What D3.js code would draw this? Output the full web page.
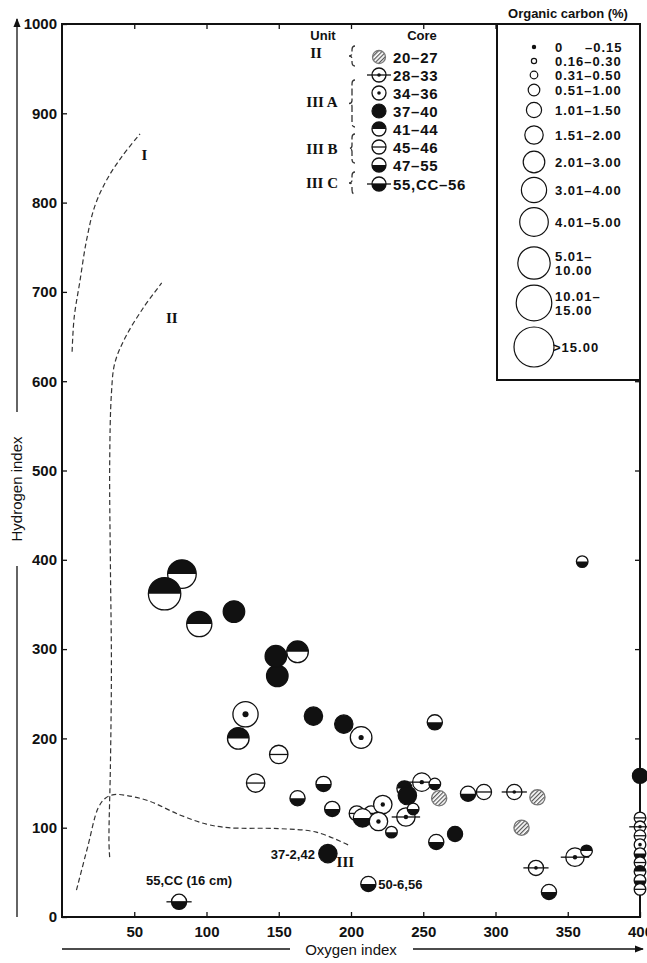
<!DOCTYPE html>
<html>
<head>
<meta charset="utf-8">
<script src="https://cdn.jsdelivr.net/npm/d3@7"></script>
<style>
  body { margin: 0; background: #fff; }
  svg { display: block; }
  text { font-family: "Liberation Sans", Arial, Helvetica, sans-serif; fill: #111; }
  .serif { font-family: "Liberation Serif", "Times New Roman", serif; font-weight: bold; }
</style>
</head>
<body>
<svg id="chart" width="647" height="963"></svg>
<script>
// ---- Data -------------------------------------------------------------
const oxygenTicks = [50, 100, 150, 200, 250, 300, 350, 400];
const hydrogenTicks = [0, 100, 200, 300, 400, 500, 600, 700, 800, 900, 1000];

// Core groups (symbol kinds) and the lithologic unit they belong to
const coreGroups = ["20–27", "28–33", "34–36", "37–40", "41–44", "45–46", "47–55", "55,CC–56"];
const unitNames = ["II", "III A", "III B", "III C"];

// Organic-carbon classes (symbol size)
const carbonClasses = ["0", "0.16–0.30", "0.31–0.50", "0.51–1.00", "1.01–1.50", "1.51–2.00",
  "2.01–3.00", "3.01–4.00", "4.01–5.00", "5.01–\n10.00", "10.01–\n15.00", ">15.00"];

// Samples: [oxygen index, hydrogen index, core group, carbon class]
const samples = [
  [83, 384, 4, 8], [71, 362, 4, 9], [95, 328, 4, 7], [119, 342, 3, 6],
  [149, 270, 3, 6], [148, 292, 3, 6], [163, 297, 4, 6], [127, 227, 2, 7],
  [174, 225, 3, 5], [122, 200, 4, 6], [195, 216, 3, 5], [207, 201, 2, 6],
  [258, 218, 6, 4], [360, 398, 6, 3], [400, 158, 3, 4],
  [150, 182, 5, 5], [134, 150, 5, 5], [181, 149, 6, 4], [163, 133, 6, 4],
  [187, 121, 6, 4], [184, 71, 3, 5], [212, 37, 6, 4],
  [204, 116, 5, 4], [214, 116, 5, 4], [208, 111, 6, 5],
  [249, 151, 1, 5], [258, 149, 6, 3], [237, 144, 4, 4], [239, 136, 3, 5],
  [261, 133, 0, 4], [281, 138, 6, 4], [292, 140, 5, 4], [313, 140, 1, 4],
  [329, 134, 0, 4], [222, 126, 2, 5], [219, 107, 2, 5], [238, 112, 1, 5],
  [243, 121, 6, 3], [228, 95, 6, 3], [259, 84, 6, 4], [272, 93, 3, 4],
  [318, 100, 0, 4], [355, 67, 1, 5], [363, 74, 4, 3], [328, 55, 1, 4],
  [337, 28, 6, 4], [81, 17, 7, 4],
  [400, 111, 5, 3], [400, 101, 1, 3], [400, 91, 5, 3], [400, 81, 2, 3],
  [400, 71, 6, 3], [400, 61, 5, 3], [400, 51, 4, 3], [400, 41, 6, 3], [400, 31, 5, 3]
];

// Kerogen-type boundary curves: [oxygen index, hydrogen index]
const typeI = [[7, 633], [8.4, 671], [12.3, 711], [17, 758], [22.7, 796], [30.8, 825], [41.2, 851], [54, 877]];
const typeII = [[33, 67], [32.5, 84], [33.5, 169], [34.2, 281], [33.5, 394], [33, 507], [34.2, 586],
  [36.5, 620], [43.5, 648], [56.2, 682], [69, 710]];
const typeIII = [[10, 30], [18, 80], [25, 122], [30, 133], [36, 137], [45, 136], [60, 130], [82, 114],
  [100, 104], [115, 100], [150, 99], [176, 95], [199, 80]];
const curveNames = ["I", "II", "III"];

// Sample annotations: text and the sample index it refers to
const notes = [
  { text: "37-2,42", sample: 20 },
  { text: "50-6,56", sample: 21 },
  { text: "55,CC (16 cm)", sample: 46 }
];

// ---- Layout -----------------------------------------------------------
const svg = d3.select("#chart");
const x = d3.scaleLinear().domain([0, 400]).range([62, 640]);
const y = d3.scaleLinear().domain([0, 1000]).range([917, 24]);
const radius = d3.scaleOrdinal().domain(d3.range(12))
  .range([1.6, 2.6, 3.8, 5.8, 7.6, 9.2, 10.8, 12.6, 14.3, 16.2, 17.8, 20]);

const defs = svg.append("defs");
const hatch = defs.append("pattern").attr("id", "hatch")
  .attr("patternUnits", "userSpaceOnUse").attr("width", 3).attr("height", 3)
  .attr("patternTransform", "rotate(45)");
hatch.append("rect").attr("width", 3).attr("height", 3).attr("fill", "#fff");
hatch.append("line").attr("x1", 0.6).attr("y1", 0).attr("x2", 0.6).attr("y2", 3)
  .attr("stroke", "#555").attr("stroke-width", 1.2);
defs.append("marker").attr("id", "arrow").attr("viewBox", "0 0 10 10")
  .attr("refX", 9).attr("refY", 5).attr("markerWidth", 9).attr("markerHeight", 9)
  .attr("markerUnits", "userSpaceOnUse").attr("orient", "auto")
  .append("path").attr("d", "M0,1 L10,5 L0,9 Z").attr("fill", "#111");

// Symbol for a core group
function symbol(g, kind, cx, cy, r) {
  const s = g.append("g");
  const ink = "#111";
  if (kind === 3) {
    s.append("circle").attr("cx", cx).attr("cy", cy).attr("r", r)
      .attr("fill", ink).attr("stroke", ink).attr("stroke-width", 1.2);
    return s;
  }
  s.append("circle").attr("cx", cx).attr("cy", cy).attr("r", r)
    .attr("fill", kind === 0 ? "url(#hatch)" : "#fff");
  if (kind === 4) {
    s.append("path").attr("d", `M${cx - r},${cy} A${r},${r} 0 0 1 ${cx + r},${cy} Z`).attr("fill", ink);
  }
  if (kind === 6 || kind === 7) {
    s.append("path").attr("d", `M${cx - r},${cy} A${r},${r} 0 0 0 ${cx + r},${cy} Z`).attr("fill", ink);
  }
  s.append("circle").attr("cx", cx).attr("cy", cy).attr("r", r)
    .attr("fill", "none").attr("stroke", kind === 0 ? "#777" : ink).attr("stroke-width", 1.3);
  if (kind === 5) {
    s.append("line").attr("x1", cx - r).attr("x2", cx + r).attr("y1", cy).attr("y2", cy)
      .attr("stroke", ink).attr("stroke-width", 1.3);
  }
  if (kind === 1 || kind === 7) {
    s.append("line").attr("x1", cx - r - 5).attr("x2", cx + r + 5).attr("y1", cy).attr("y2", cy)
      .attr("stroke", ink).attr("stroke-width", 1.3);
  }
  if (kind === 1 || kind === 2) {
    s.append("circle").attr("cx", cx).attr("cy", cy).attr("r", Math.max(1.8, r * 0.24)).attr("fill", ink);
  }
  return s;
}

// ---- Axes and frame ----------------------------------------------------
const axisFont = g => g.selectAll("text").attr("font-size", 15).attr("font-weight", "bold").attr("fill", "#111");

svg.append("g").attr("transform", `translate(${x(0)},0)`)
  .call(d3.axisLeft(y).tickValues(hydrogenTicks).tickSize(-5).tickPadding(5).tickFormat(d3.format("d")))
  .call(g => g.select(".domain").remove())
  .call(axisFont);

svg.append("g").attr("transform", `translate(0,${y(0)})`)
  .call(d3.axisBottom(x).tickValues(oxygenTicks).tickSize(-5).tickPadding(9).tickFormat(d3.format("d")))
  .call(g => g.select(".domain").remove())
  .call(axisFont);

svg.append("g").attr("transform", `translate(${x(400)},0)`)
  .call(d3.axisRight(y).tickValues(hydrogenTicks.slice(1, -1)).tickSize(-5).tickFormat(""))
  .call(g => g.select(".domain").remove());

svg.append("g").attr("transform", `translate(0,${y(1000)})`)
  .call(d3.axisTop(x).tickValues(oxygenTicks.slice(0, 6)).tickSize(-5).tickFormat(""))
  .call(g => g.select(".domain").remove());

svg.selectAll(".tick line").attr("stroke", "#111").attr("stroke-width", 1.3);

svg.append("rect").attr("x", x(0)).attr("y", y(1000))
  .attr("width", x(400) - x(0)).attr("height", y(0) - y(1000))
  .attr("fill", "none").attr("stroke", "#111").attr("stroke-width", 2);

// Outer axis arrows with titles
svg.append("line").attr("x1", 17).attr("y1", y(0)).attr("x2", 17).attr("y2", 566)
  .attr("stroke", "#111").attr("stroke-width", 1.3);
svg.append("line").attr("x1", 17).attr("y1", 412).attr("x2", 17).attr("y2", 19)
  .attr("stroke", "#111").attr("stroke-width", 1.3).attr("marker-end", "url(#arrow)");
svg.append("text").attr("transform", "translate(22,489) rotate(-90)")
  .attr("text-anchor", "middle").attr("font-size", 15).text("Hydrogen index");

svg.append("line").attr("x1", x(0)).attr("y1", 949).attr("x2", 290).attr("y2", 949)
  .attr("stroke", "#111").attr("stroke-width", 1.3);
svg.append("line").attr("x1", 413).attr("y1", 949).attr("x2", 643).attr("y2", 949)
  .attr("stroke", "#111").attr("stroke-width", 1.3).attr("marker-end", "url(#arrow)");
svg.append("text").attr("x", 351).attr("y", 955)
  .attr("text-anchor", "middle").attr("font-size", 15).text("Oxygen index");

// ---- Kerogen boundary curves ------------------------------------------
const curveLine = d3.line().x(d => x(d[0])).y(d => y(d[1])).curve(d3.curveCatmullRom.alpha(0.5));
[typeI, typeII, typeIII].forEach(c => {
  svg.append("path").attr("d", curveLine(c)).attr("fill", "none")
    .attr("stroke", "#333").attr("stroke-width", 1.2).attr("stroke-dasharray", "5,3");
});
const curveLabelAt = [[55, 848], [72, 665], [190, 56]];
curveNames.forEach((n, i) => {
  svg.append("text").attr("class", "serif").attr("x", x(curveLabelAt[i][0])).attr("y", y(curveLabelAt[i][1]))
    .attr("font-size", 15).attr("text-anchor", "start").text(n);
});

// ---- Samples -----------------------------------------------------------
const pts = svg.append("g");
samples.forEach(([oi, hi, k, c]) => symbol(pts, k, x(oi), y(hi), radius(c)));

// Annotations
const noteStyle = [
  { dx: -13, dy: 5, anchor: "end" },
  { dx: 10, dy: 5, anchor: "start" },
  { dx: 10, dy: -17, anchor: "middle" }
];
notes.forEach((n, i) => {
  const s = samples[n.sample];
  svg.append("text").attr("x", x(s[0]) + noteStyle[i].dx).attr("y", y(s[1]) + noteStyle[i].dy)
    .attr("text-anchor", noteStyle[i].anchor).attr("font-size", 13).attr("font-weight", "bold")
    .text(n.text);
});

// ---- Core legend ------------------------------------------------------
const lg = svg.append("g");
lg.append("text").attr("x", 323).attr("y", 40).attr("text-anchor", "middle")
  .attr("font-size", 13).attr("font-weight", "bold").text("Unit");
lg.append("text").attr("x", 422).attr("y", 40).attr("text-anchor", "middle")
  .attr("font-size", 13).attr("font-weight", "bold").text("Core");
const coreRowY = [57, 75, 93, 111, 129, 147, 165, 184];
coreGroups.forEach((g, i) => {
  symbol(lg, i, 379, coreRowY[i], i === 0 ? 6.5 : 7);
  lg.append("text").attr("x", 393).attr("y", coreRowY[i] + 5.5)
    .attr("font-size", 15).attr("font-weight", "bold").attr("letter-spacing", 0.7).text(g);
});
const unitRowY = [53, 102, 149, 183];
unitNames.forEach((u, i) => {
  lg.append("text").attr("class", "serif").attr("x", i === 0 ? 316 : 322).attr("y", unitRowY[i] + 5)
    .attr("text-anchor", "middle").attr("font-size", 15).text(u);
});
// Dashed braces grouping the cores into units
const braceSpans = [[46, 66], [80, 127], [134, 163], [172, 194]];
braceSpans.forEach(([a, b]) => {
  const m = (a + b) / 2, bx = 352;
  svg.append("path")
    .attr("d", `M${bx + 3},${a} Q${bx},${a} ${bx},${a + 4} L${bx},${m - 3} Q${bx},${m} ${bx - 3},${m}` +
      ` Q${bx},${m} ${bx},${m + 3} L${bx},${b - 4} Q${bx},${b} ${bx + 3},${b}`)
    .attr("fill", "none").attr("stroke", "#333").attr("stroke-width", 1.3).attr("stroke-dasharray", "7,3");
});

// ---- Organic carbon legend --------------------------------------------
const oc = svg.append("g");
oc.append("rect").attr("x", 497).attr("y", y(1000)).attr("width", x(400) - 497).attr("height", 380 - y(1000))
  .attr("fill", "#fff").attr("stroke", "#111").attr("stroke-width", 2);
oc.append("text").attr("x", 568).attr("y", 18).attr("text-anchor", "middle")
  .attr("font-size", 13).attr("font-weight", "bold").text("Organic carbon (%)");
const ocRowY = [47, 61, 75, 90, 110, 135, 162, 190, 222, 263, 303, 347];
carbonClasses.forEach((c, i) => {
  oc.append("circle").attr("cx", 534).attr("cy", ocRowY[i]).attr("r", radius(i))
    .attr("fill", i === 0 ? "#111" : "#fff").attr("stroke", "#111").attr("stroke-width", 1.2);
  const lines = c.split("\n");
  const t = oc.append("text").attr("font-size", 13).attr("font-weight", "bold").attr("letter-spacing", 1);
  lines.forEach((ln, j) => {
    t.append("tspan").attr("x", i === 11 ? 553 : 555)
      .attr("y", ocRowY[i] + 4.5 + (j - (lines.length - 1) / 2) * 14).text(ln);
  });
  if (i === 0) {
    oc.append("text").attr("x", 585).attr("y", ocRowY[i] + 4.5).attr("letter-spacing", 1)
      .attr("font-size", 13).attr("font-weight", "bold").text("–0.15");
  }
});
</script>
</body>
</html>
